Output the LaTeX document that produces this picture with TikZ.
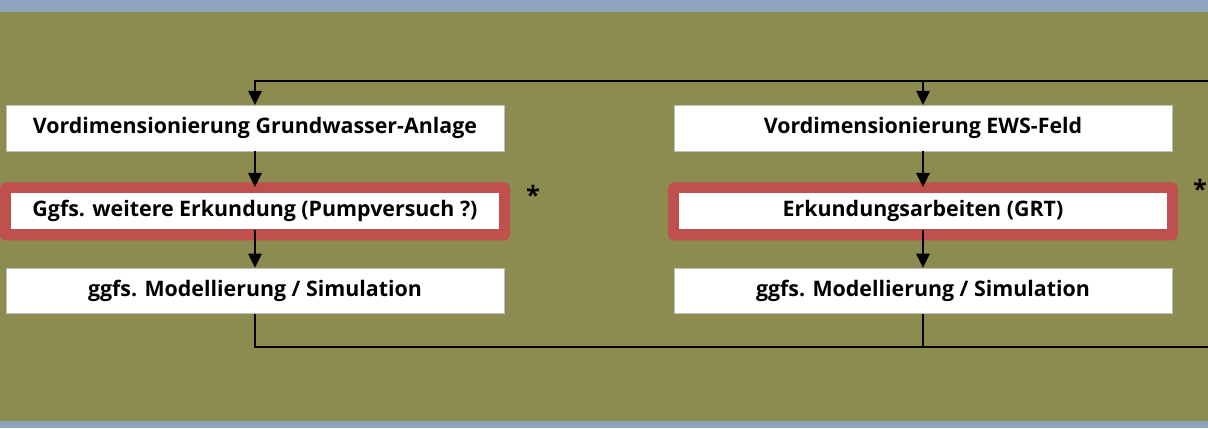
\documentclass[tikz,border=0pt]{standalone}
\usepackage{fontspec}
\setmainfont{Open Sans}
\usetikzlibrary{arrows.meta,positioning}
\definecolor{olivebg}{RGB}{140,139,80}
\definecolor{bandblue}{RGB}{142,164,190}
\definecolor{framered}{RGB}{192,80,77}
\tikzset{
    stepbox/.style = {
        rectangle,
        draw=gray!50,
        fill=white,
        minimum width=12.45cm,
        minimum height=1.14cm,
        inner sep=0pt,
        font=\bfseries\fontsize{15.2}{17}\selectfont
    },
    redframe/.style = {
        rectangle,
        rounded corners=4pt,
        fill=framered,
        minimum width=12.75cm,
        minimum height=1.45cm
    },
    innerbox/.style = {
        stepbox,
        draw=none,
        minimum width=12.2cm,
        minimum height=0.9cm
    },
    note/.style = {
        font=\bfseries\fontsize{18}{18}\selectfont
    },
    arrow/.style = {
        -{Triangle[width=9.5pt,length=10pt]},
        line width=1.4pt
    },
    line/.style = {
        line width=1.4pt
    }
}

\begin{document}
\begin{tikzpicture}[x=0.025cm,y=-0.025cm]
% background
\fill [olivebg] (0,0) rectangle (1208,428);
\fill [bandblue] (0,0) rectangle (1208,12);
\fill [bandblue] (0,421) rectangle (1208,428);
\useasboundingbox (0,0) rectangle (1208,428);

% ground water column
\node (gw1) [stepbox] at (255,128) {Vordimensionierung Grundwasser-Anlage};
\node (gw2) [redframe, below=0.775cm of gw1] {};
\node (gw2t) [innerbox] at (gw2.center) {Ggfs. weitere Erkundung (Pumpversuch ?)};
\node (gw3) [stepbox, below=0.675cm of gw2] {ggfs. Modellierung / Simulation};
\node (starL) [note] at (533,195) {*};

% EWS column
\node (ews1) [stepbox] at (923,128) {Vordimensionierung EWS-Feld};
\node (ews2) [redframe, below=0.775cm of ews1] {};
\node (ews2t) [innerbox] at (ews2.center) {Erkundungsarbeiten (GRT)};
\node (ews3) [stepbox, below=0.675cm of ews2] {ggfs. Modellierung / Simulation};
\node (starR) [note] at (1200,189) {*};

% loop
\coordinate (topR) at (1208,81);
\coordinate (botR) at (1208,347);

\draw [arrow] (topR) -| (gw1.north);
\draw [arrow] (ews1.north |- topR) -- (ews1.north);
\draw [arrow, shorten >=-3.5pt] (gw1.south) -- (gw2.north);
\draw [arrow] (gw2t.south) -- (gw3.north);
\draw [arrow, shorten >=-3.5pt] (ews1.south) -- (ews2.north);
\draw [arrow] (ews2t.south) -- (ews3.north);
\draw [line] (gw3.south) |- (botR);
\draw [line] (ews3.south) -- (ews3.south |- botR);
\end{tikzpicture}
\end{document}
